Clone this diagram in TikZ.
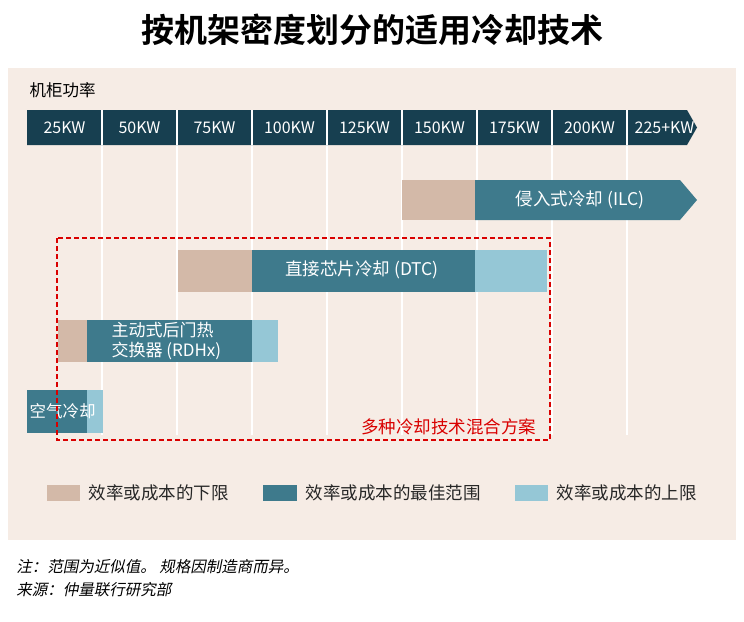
\documentclass[tikz,border=0pt]{standalone}
\usepackage{fontspec}
\setmainfont{Noto Sans CJK SC}
\newfontfamily\cjkb{Noto Sans CJK SC Bold}
\begin{document}
\begin{tikzpicture}[x=1pt,y=-1pt,
  seglab/.style={text=white,font=\fontsize{16}{18}\selectfont},
  blab/.style={text=white,font=\fontsize{17.5}{20}\selectfont},
  legtxt/.style={anchor=west,font=\fontsize{17.5}{20}\selectfont,text=black!85}]
\definecolor{barblue}{HTML}{173F50}
\definecolor{teal}{HTML}{3E7A8C}
\definecolor{tan}{HTML}{D3B9A8}
\definecolor{lightb}{HTML}{95C7D6}
\definecolor{panel}{HTML}{F6ECE5}
\useasboundingbox (0,0) rectangle (744,621);
\fill[white] (0,0) rectangle (744,621);
\node[font=\cjkb\fontsize{33}{36}\selectfont] (title) at (372,30) {按机架密度划分的适用冷却技术};
\fill[panel] (8,68) rectangle (736,540);
\node[anchor=west,font=\fontsize{16.5}{18}\selectfont] (axis) at (26,90) {机柜功率};
\foreach \x in {102,177,252,327,402,477,552,627}
  \draw[white,line width=1.2pt] (\x,145) -- (\x,435);
\fill[barblue] (27,110) -- (687,110) -- (697,127.5) -- (687,145) -- (27,145) -- cycle;
\foreach \x in {102,177,252,327,402,477,552,627}
  \draw[white,line width=1.2pt] (\x,110) -- (\x,145);
\foreach \l [count=\i] in {25KW,50KW,75KW,100KW,125KW,150KW,175KW,200KW,225+KW}
  \node[seglab] (s\i) at ({27+75*(\i-1)+37.5},127.5) {\l};
\fill[tan] (402,180) rectangle (475,220);
\fill[teal] (475,180) -- (680,180) -- (697,200) -- (680,220) -- (475,220) -- cycle;
\node[blab] (ilc) at (580,200) {侵入式冷却 (ILC)};
\fill[tan] (178,250) rectangle (252,292);
\fill[teal] (252,250) rectangle (475,292);
\fill[lightb] (475,250) rectangle (547,292);
\node[blab] (dtc) at (362,270) {直接芯片冷却 (DTC)};
\fill[tan] (58,320) rectangle (87,362);
\fill[teal] (87,320) rectangle (252,362);
\fill[lightb] (252,320) rectangle (278,362);
\node[blab,align=left,anchor=west,font=\fontsize{17}{20}\selectfont] (rdhx) at (108,341) {主动式后门热\\交换器 (RDHx)};
\fill[teal] (27,390) rectangle (87,433);
\fill[lightb] (87,390) rectangle (103,433);
\node[blab,anchor=west,font=\fontsize{16.5}{19}\selectfont] (air) at (26,411) {空气冷却};
\draw[red!85!black,dash pattern=on 5pt off 3pt,line width=1.3pt] (57,238) rectangle (550,440);
\node[text=red!85!black,font=\fontsize{17.5}{20}\selectfont,anchor=east] (mix) at (540,427) {多种冷却技术混合方案};
\fill[tan] (47,485) rectangle (80,501);
\node[legtxt] (l1) at (85,493) {效率或成本的下限};
\fill[teal] (263,485) rectangle (297,501);
\node[legtxt] (l2) at (302,493) {效率或成本的最佳范围};
\fill[lightb] (515,485) rectangle (548,501);
\node[legtxt] (l3) at (553,493) {效率或成本的上限};
\node[anchor=west,font=\fontsize{15.5}{18}\selectfont,xslant=0.2] (n1) at (14,567) {注：范围为近似值。 规格因制造商而异。};
\node[anchor=west,font=\fontsize{15.5}{18}\selectfont,xslant=0.2] (n2) at (14,590) {来源：仲量联行研究部};
\end{tikzpicture}
\end{document}
